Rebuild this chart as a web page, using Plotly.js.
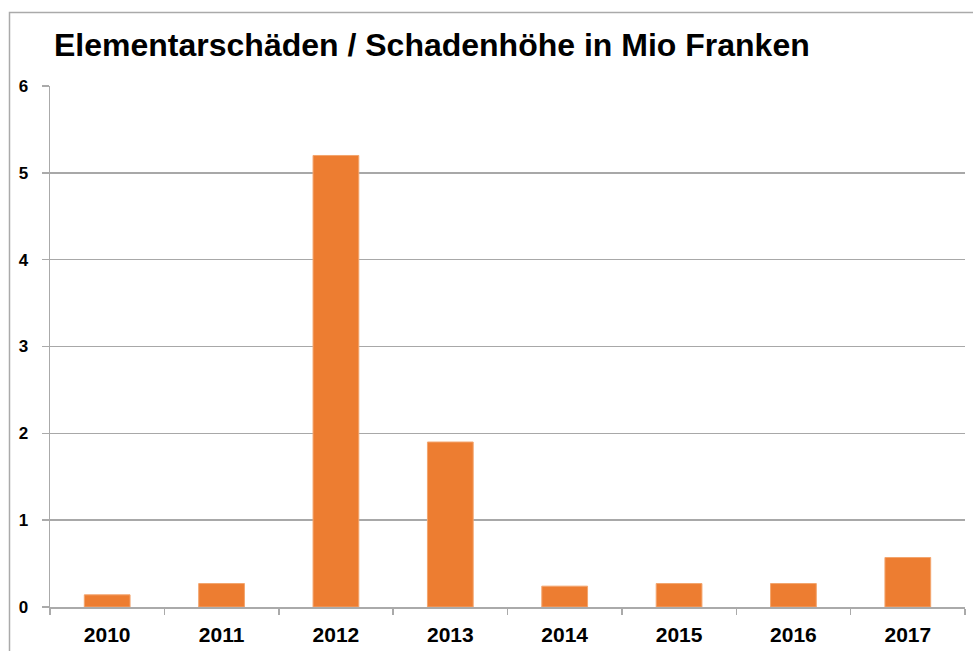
<!DOCTYPE html>
<html>
<head>
<meta charset="utf-8">
<script src="https://cdn.plot.ly/plotly-3.0.1.min.js"></script>
<style>
html,body{margin:0;padding:0;background:#fff;}
#chart{width:973px;height:651px;}
</style>
</head>
<body>
<div id="chart"></div>
<script>
var years = ["2010","2011","2012","2013","2014","2015","2016","2017"];
var damage = [0.14, 0.27, 5.2, 1.9, 0.24, 0.27, 0.27, 0.57];
var yTicks = [0,1,2,3,4,5,6];

var trace = {
  type: "bar",
  x: years,
  y: damage,
  width: 0.4,
  marker: {color: "#ED7D31", line: {color: "#F3A56E", width: 1}},
  hoverinfo: "x+y"
};

var L = 50, R = 965, T = 86, B = 607, W = 973, H = 651;
var pw = R - L, ph = B - T;
function px(x){ return (x - L) / pw; }
function py(y){ return (B - y) / ph; }

var layout = {
  width: W, height: H,
  margin: {l: L, r: W - R, t: T, b: H - B, pad: 0},
  paper_bgcolor: "#ffffff",
  plot_bgcolor: "#ffffff",
  showlegend: false,
  bargap: 0.6,
  title: {
    text: "<b>Elementarschäden / Schadenhöhe in Mio Franken</b>",
    font: {family: "Liberation Sans, Arial, sans-serif", size: 32, color: "#000", weight: "bold"},
    x: 54 / W, xanchor: "left", xref: "container",
    y: 1 - 45 / H, yanchor: "middle", yref: "container"
  },
  xaxis: {
    type: "category",
    showgrid: false,
    showline: true, linecolor: "#aaaaaa", linewidth: 1.5,
    ticks: "outside", tickson: "boundaries", ticklen: 6, tickcolor: "#aaaaaa", tickwidth: 1.5,
    tickfont: {family: "Liberation Sans, Arial, sans-serif", size: 21, color: "#000", weight: "bold"},
    ticklabelstandoff: 8,
    zeroline: false,
    fixedrange: true
  },
  yaxis: {
    range: [0, 6],
    tickvals: yTicks,
    ticktext: yTicks.map(String),
    showgrid: true, gridcolor: "#a8a8a8", gridwidth: 1.5,
    showline: true, linecolor: "#aaaaaa", linewidth: 1.5,
    ticks: "outside", ticklen: 7, tickcolor: "#aaaaaa", tickwidth: 1.5,
    tickfont: {family: "Liberation Sans, Arial, sans-serif", size: 17, color: "#000", weight: "bold"},
    ticklabelstandoff: 10,
    zeroline: false,
    fixedrange: true
  },
  shapes: [{
    type: "rect", xref: "paper", yref: "paper",
    x0: px(9.5), x1: px(990), y0: py(670), y1: py(12.5),
    line: {color: "#aaaaaa", width: 1.5}, fillcolor: "rgba(0,0,0,0)", layer: "below"
  }]
};

Plotly.newPlot("chart", [trace], layout, {displayModeBar: false, staticPlot: true});
</script>
</body>
</html>
